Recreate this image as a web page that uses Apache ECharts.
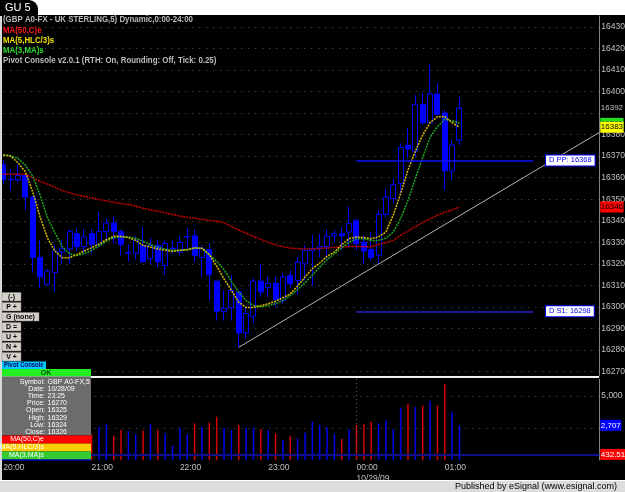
<!DOCTYPE html>
<html><head><meta charset="utf-8">
<script src="https://cdn.jsdelivr.net/npm/echarts@6/dist/echarts.min.js"></script>
<style>html,body{margin:0;padding:0;background:#fff;overflow:hidden}#c{width:625px;height:492px}</style>
</head><body><div id="c"></div>
<script>
// ---------- data ----------
const hourLabels = ['20:00','21:00','22:00','23:00','00:00','01:00'];
const dateLabel = '10/29/09';
const startMinutes = 20 * 60;   // first bar 20:00, 5-minute bars
const barMinutes = 5;
const slotCount = 82;           // bars + empty right margin

const openP = [16366,16359,16359,16361,16351,16323,16310.5,16316,16325.5,16327,16334,16328,16334,16329,16335,16339,16335,16325,16325,16328.6,16322.4,16328.6,16319.3,16327,16325.5,16332.5,16333,16323,16326.6,16312,16298,16299.6,16307,16288,16295.7,16312,16309,16311,16303,16314.7,16312.3,16320,16326,16327,16328,16333,16334,16334.8,16340,16330,16326.7,16324,16343,16350.3,16357.3,16375,16372.3,16394,16385.5,16398.8,16390,16363.2,16377.4];
const highP = [16368,16364,16366,16362,16351.5,16331,16317.7,16329,16331,16336,16336.5,16336,16336,16344,16341,16342,16336,16329,16333,16337,16332,16331,16331,16331,16333,16336.4,16336,16328.6,16329.7,16312.3,16307.7,16314.7,16307.7,16300,16313.3,16320,16314,16314,16315.7,16317,16323,16328.6,16333.3,16334,16336,16335.6,16337,16346.7,16341,16333.3,16334.8,16345,16355,16359.6,16376,16383,16398.4,16399.2,16412.8,16403.8,16391.4,16377.4,16397.6];
const lowP = [16357,16354,16358,16345,16316,16309,16310,16307,16320,16320,16326,16325,16325,16328,16331,16329.5,16324,16321,16322,16320.5,16320,16318.5,16315,16324.5,16324,16326,16321,16314,16303,16293.7,16293.7,16293.7,16281.3,16285.3,16292.3,16304.6,16304.6,16300,16301.5,16309,16306,16312.3,16310,16323,16321.6,16330,16326.3,16327.8,16326.3,16320,16321.6,16320,16341.8,16348,16352.6,16369,16369.7,16384.4,16385.2,16388.3,16354.2,16358.8,16375];
const closeP = [16359,16359.3,16361,16351,16323,16314,16316.7,16326,16327,16335,16328,16332.5,16329,16335,16339,16335,16329,16325.3,16331,16321,16328.6,16321,16329.4,16327.3,16330,16332.7,16324,16327,16315,16298,16299.4,16307.7,16288,16297,16312,16307,16311,16303.5,16314,16310.8,16320.8,16326.3,16327,16328,16332.8,16334,16333,16338.7,16329.4,16326,16323,16343,16351,16356.8,16374,16373.3,16394,16385.5,16398.8,16389.4,16363.2,16375.1,16392.2];
const volume = [null,null,null,null,null,null,null,null,null,null,null,null,
  2007,2601,2788,1874,2343,2265,2007,2288,2788,2343,2085,1116,2522,2007,2866,2601,2913,3382,2522,2343,2734,2522,2522,2397,2343,2085,1562,1874,1695,2132,2991,2734,2553,2007,1640,2420,2734,2811,2991,2866,3101,2420,4084,4397,4140,4241,4607,4241,5935,3772,2707];
const ma50C = [16361.6,16361.6,16361.6,16361.6,16360,16358.4,16357,16355.6,16354,16353,16352,16351.3,16350.6,16349.9,16349.2,16348.6,16348,16347.6,16346.8,16345.8,16345.1,16344.4,16343.7,16342.9,16342.2,16341.6,16341.2,16340.7,16340.2,16339.8,16339.1,16337.4,16335.8,16334.2,16332.8,16331.4,16330,16328.8,16328,16327.3,16327.1,16326.9,16327,16327.2,16327.4,16327.7,16327.9,16328,16328.1,16328,16327.9,16329.1,16330,16330.9,16333.3,16335.3,16337.2,16339.3,16340.9,16342.6,16344,16345.1,16346.4];
const ma5HLC = [16370.5,16370,16366.9,16362.7,16353.4,16341.8,16332,16326,16322.9,16322.9,16324.3,16326,16327.5,16329.2,16331.2,16332.8,16332.8,16332.2,16330.9,16328.6,16327.8,16326.9,16326.3,16325.8,16326.3,16326.7,16327.5,16327.2,16324.3,16319,16313.1,16307.7,16302.2,16299.8,16299.8,16300.6,16301.5,16302.7,16304.3,16306.1,16309.7,16313.9,16317.8,16320.4,16323.5,16325.5,16329,16331.7,16332.5,16332.2,16331.7,16332.5,16334.8,16342.6,16352.6,16363.5,16372.3,16379.8,16385.5,16388.3,16388.3,16385.5,16383.4];
const ma3MA = [16370.5,16370.2,16368.9,16365.8,16360.7,16351.9,16341.5,16334.5,16328.1,16324.7,16323.9,16324.7,16326.3,16328.3,16330.5,16332.2,16332.5,16332.5,16331.9,16330.5,16328.9,16327.8,16326.9,16326.3,16326.3,16326.5,16327.2,16327.4,16324.3,16321.2,16317.3,16311.9,16306.9,16303,16300.7,16300.1,16300.6,16301.5,16303,16305.3,16308.1,16311.3,16314.7,16318.5,16322,16324.7,16327.5,16330.1,16331.7,16331.7,16330.9,16330.9,16332,16334.8,16341,16349.5,16359.6,16369.4,16378.7,16383.6,16387.1,16386.4,16385.2];
const volMA = 432.51;
const pivotPP = 16368, pivotS1 = 16298;
const pivotFrom = 48, pivotTo = 72;
const trendStart = [32, 16281.3], trendEnd = [81, 16381];
const priceGrid = [16270,16280,16290,16300,16310,16320,16330,16340,16350,16360,16370,16380,16390,16400,16410,16420,16430];
const priceLabels = [16270,16280,16290,16300,16310,16320,16330,16340,16350,16360,16370,16380,16400,16410,16420,16430];
const volGrid = [2500,5000];
const volLabels = [5000];
const consoleRows = [['Symbol:','GBP A0-FX,5'],['Date:','10/28/09'],['Time:','23:25'],['Price:','16270'],['Open:','16325'],['High:','16329'],['Low:','16324'],['Close:','16326']];
const titleLines = [
  ['(GBP A0-FX - UK STERLING,5) Dynamic,0:00-24:00','#bcbcbc'],
  ['MA(50,C)e','#ff1a1a'],
  ['MA(5,HLC/3)s','#f0e000'],
  ['MA(3,MA)s','#30dd30'],
  ['Pivot Console v2.0.1 (RTH: On, Rounding: Off, Tick: 0.25)','#bcbcbc']
];
const buttons = ['(-)','P +','G (none)','D =','U +','N +','V +'];

// ---------- build ----------
const cats = [];
for (let i = 0; i < slotCount; i++) {
  const m = (startMinutes + i * barMinutes) % 1440;
  cats.push(String(Math.floor(m / 60)).padStart(2, '0') + ':' + String(m % 60).padStart(2, '0'));
}
const candles = openP.map((o, i) => [o, closeP[i], lowP[i], highP[i]]);
const last = a => a[a.length - 1];
const SANS = '"Liberation Sans",Arial,sans-serif';
const HIDDEN = {color:'rgba(0,0,0,0)', width:0};

function boxLabel(bg, fg, fmt) {
  return {show:true, position:'end', distance:1, formatter:fmt, color:fg, backgroundColor:bg,
    fontFamily:SANS, fontSize:8, padding:[1,0.5,0,0.5], lineHeight:10};
}

const g = [];
const T = (text, x, y, fill, font, extra) => Object.assign({type:'text', x:x, y:y, z:102, silent:true,
  style:{text:text, x:0, y:0, fill:fill, font:font, verticalAlign:'middle'}}, extra || {});
// top white strip + tab
g.push({type:'rect', shape:{x:0,y:0,width:625,height:15}, style:{fill:'#ffffff'}, z:100, silent:true});
g.push({type:'rect', shape:{x:0,y:0,width:38,height:16,r:[0,9,0,0]}, style:{fill:'#000'}, z:101, silent:true});
g.push(T('GU 5', 5, 8, '#fff', '11px '+SANS));
// left border
g.push({type:'rect', shape:{x:0,y:15,width:2,height:466}, style:{fill:'#d8d8d8'}, z:100, silent:true});
// panel separator
g.push({type:'rect', shape:{x:2,y:376,width:597,height:2}, style:{fill:'#f0f0f0'}, z:100, silent:true});
// bottom status bar
g.push({type:'rect', shape:{x:0,y:480,width:625,height:12}, style:{fill:'#dcdcdc'}, z:100, silent:true});
g.push({type:'rect', shape:{x:0,y:480,width:625,height:1}, style:{fill:'#ffffff'}, z:101, silent:true});
const pub = T('Published by eSignal (www.esignal.com)', 617, 487, '#000', '9px '+SANS);
pub.style.align = 'right'; g.push(pub);
// title lines
titleLines.forEach((t, k) => g.push(T(t[0], 3, 20 + k*10.1, t[1], 'bold 9px '+SANS, {scaleX:0.875})));
// buttons
buttons.forEach((b, k) => {
  const w = b.length > 4 ? 37 : 19;
  g.push({type:'rect', shape:{x:2,y:292.5 + k*10,width:w,height:8.5}, style:{fill:'#d4d0c8', stroke:'#808080', lineWidth:0.5}, z:101, silent:true});
  const t = T(b, 2 + w/2, 297 + k*10, '#000', 'bold 7px '+SANS); t.style.align = 'center'; g.push(t);
});
// pivot console
g.push({type:'rect', shape:{x:2,y:361.5,width:44,height:7.5}, style:{fill:'#00c8ff'}, z:101, silent:true});
g.push(T('Pivot Console', 4, 365.5, '#000060', 'bold 7px '+SANS, {scaleX:0.85}));
g.push({type:'rect', shape:{x:2,y:369,width:89,height:7.5}, style:{fill:'#22ee22'}, z:101, silent:true});
const ok = T('OK', 46, 373, '#005000', 'bold 7px '+SANS); ok.style.align = 'center'; g.push(ok);
g.push({type:'rect', shape:{x:2,y:376.5,width:89,height:59}, style:{fill:'#6c6c6c'}, z:101, silent:true});
consoleRows.forEach((r, k) => {
  const a = T(r[0], 45, 381.7 + k*7.2, '#fff', '7px '+SANS); a.style.align = 'right'; g.push(a);
  g.push(T(r[1], 47.5, 381.7 + k*7.2, '#fff', '7px '+SANS));
});
[['MA(50,C)e','#ff0000'],['MA(5,HLC/3)s','#ffcc00'],['MA(3,MA)s','#33cc33']].forEach((r, k) => {
  g.push({type:'rect', shape:{x:2,y:435.5 + k*8,width:89,height:8}, style:{fill:r[1]}, z:101, silent:true});
  const t = T(r[0], 44, 439.5 + k*8, '#fff', '7px '+SANS); t.style.align = 'right'; g.push(t);
});
g.push({type:'rect', shape:{x:2,y:459.5,width:89,height:1}, style:{fill:'#0000ff'}, z:101, silent:true});

const axisFont = {color:'#c0c0c0', fontFamily:SANS, fontSize:8.5};
const option = {
  animation:false,
  backgroundColor:'#000',
  graphic:g,
  grid:[{left:3.3, top:16, width:596, height:360, outerBoundsMode:'none', containLabel:false},
        {left:3.3, top:379, width:596, height:81, outerBoundsMode:'none', containLabel:false}],
  xAxis:[
    {type:'category', gridIndex:0, data:cats, boundaryGap:false, show:false},
    {type:'category', gridIndex:1, data:cats, boundaryGap:false,
     axisLine:{show:false}, axisTick:{show:false}, splitLine:{show:false},
     axisLabel:Object.assign({interval:(i) => i % 12 === 0 && i / 12 < hourLabels.length,
       formatter:(v, i) => hourLabels[i / 12] + (hourLabels[i / 12] === '00:00' ? '\n' + dateLabel : ''),
       align:'left', verticalAlign:'top', margin:2, lineHeight:11}, axisFont)}
  ],
  yAxis:[
    {type:'value', gridIndex:0, position:'right', min:16268, max:16435,
     axisLine:{show:true, lineStyle:{color:'#808080'}}, axisTick:{show:false, customValues:priceGrid},
     axisLabel:Object.assign({customValues:priceLabels, formatter:v => String(v), margin:2}, axisFont),
     splitLine:{show:true, lineStyle:{color:'#585858', type:[1,6]}}},
    {type:'value', gridIndex:1, position:'right', min:0, max:6328,
     axisLine:{show:true, lineStyle:{color:'#808080'}}, axisTick:{show:false, customValues:volGrid},
     axisLabel:Object.assign({customValues:volLabels, formatter:v => v.toLocaleString('en-US'), margin:2}, axisFont),
     splitLine:{show:true, lineStyle:{color:'#585858', type:[1,6]}}}
  ],
  series:[
    {type:'candlestick', xAxisIndex:0, yAxisIndex:0, data:candles, barWidth:5.5, z:2,
     itemStyle:{color:'#000', color0:'#0000ff', borderColor:'#0000ff', borderColor0:'#0000ff', borderColorDoji:'#0000ff', borderWidth:1},
     markLine:{silent:true, symbol:['none','none'], animation:false,
       data:[
         [{coord:[pivotFrom, pivotPP], lineStyle:{color:'#1010ff', width:1.5, type:'solid'},
           label:{show:true, position:'end', distance:13, formatter:'D PP: ' + pivotPP, color:'#0000ff', backgroundColor:'#fff', borderColor:'#0000ff', borderWidth:1, padding:[1,3,1,3], fontFamily:SANS, fontSize:7.5}},
          {coord:[pivotTo, pivotPP]}],
         [{coord:[pivotFrom, pivotS1], lineStyle:{color:'#1a1a9a', width:2, type:'solid'},
           label:{show:true, position:'end', distance:13, formatter:'D S1: ' + pivotS1, color:'#0000ff', backgroundColor:'#fff', borderColor:'#0000ff', borderWidth:1, padding:[1,3,1,3], fontFamily:SANS, fontSize:7.5}},
          {coord:[pivotTo, pivotS1]}],
         [{coord:trendStart, lineStyle:{color:'#b4b4b4', width:1, type:'solid'}, label:{show:false}}, {coord:trendEnd}],
         {yAxis:last(closeP), lineStyle:HIDDEN, label:boxLabel('#000', '#c0c0c0', p => Math.round(p.value))}
       ]}},
    {type:'line', xAxisIndex:0, yAxisIndex:0, data:ma50C, showSymbol:false, z:3,
     lineStyle:{color:'#cc0000', width:1.5, type:[2,1]},
     markLine:{silent:true, symbol:['none','none'], data:[{yAxis:last(ma50C), lineStyle:HIDDEN, label:boxLabel('#ff0000', '#000', p => Math.floor(p.value))}]}},
    {type:'line', xAxisIndex:0, yAxisIndex:0, data:ma3MA, showSymbol:false, z:3,
     lineStyle:{color:'#20a820', width:1.5, type:[2,1]},
     markLine:{silent:true, symbol:['none','none'], data:[{yAxis:last(ma3MA), lineStyle:HIDDEN, label:boxLabel('#22dd22', '#000', p => Math.floor(p.value))}]}},
    {type:'line', xAxisIndex:0, yAxisIndex:0, data:ma5HLC, showSymbol:false, z:4,
     lineStyle:{color:'#dcbc00', width:1.5, type:[2,1]},
     markLine:{silent:true, symbol:['none','none'], data:[{yAxis:last(ma5HLC), lineStyle:HIDDEN, label:boxLabel('#ffff00', '#000', p => Math.floor(p.value))}]}},
    {type:'bar', xAxisIndex:1, yAxisIndex:1, data:volume, barWidth:1.5, z:2,
     itemStyle:{color:p => closeP[p.dataIndex] < openP[p.dataIndex] ? '#d80000' : '#0000ee'},
     markLine:{silent:true, symbol:['none','none'],
       data:[
         {xAxis:48, lineStyle:{color:'#606060', width:1, type:[1,3]}, label:{show:false}},
         {yAxis:volMA, lineStyle:{color:'#10108a', width:2, type:'solid'}, label:boxLabel('#ff0000', '#fff', p => p.value.toFixed(2))},
         {yAxis:last(volume), lineStyle:HIDDEN, label:boxLabel('#0000ff', '#fff', p => p.value.toLocaleString('en-US'))}
       ]}}
  ]
};
const chart = echarts.init(document.getElementById('c'));
chart.setOption(option);
</script></body></html>
